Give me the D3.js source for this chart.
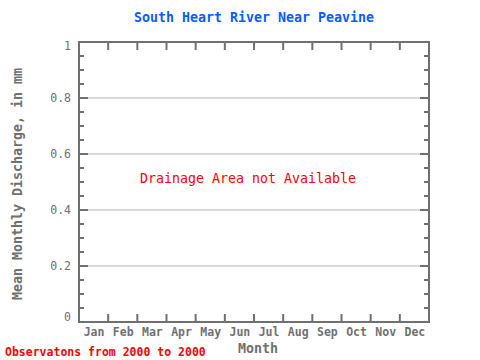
<!DOCTYPE html>
<html><head><meta charset="utf-8">
<script src="https://cdn.jsdelivr.net/npm/d3@7"></script>
<style>body{margin:0;background:#fff}svg{display:block}</style>
</head><body>
<script>
const months = ["Jan","Feb","Mar","Apr","May","Jun","Jul","Aug","Sep","Oct","Nov","Dec"];
const yTicks = [0, 0.2, 0.4, 0.6, 0.8, 1];
const yTickLabels = ["0","0.2","0.4","0.6","0.8","1"];
const values = []; // no data available
const titleText = "South Heart River Near Peavine";
const noteText = "Drainage Area not Available";
const obsText = "Observatons from 2000 to 2000";

const W = 480, H = 360;
const L = 79, R = 429, T = 42, B = 322;
const font = "'DejaVu Sans Mono', 'Liberation Mono', monospace";
const gray = "#707070";

const svg = d3.select("body").append("svg").attr("width", W).attr("height", H);
const x = d3.scaleBand().domain(months).range([L, R]);
const y = d3.scaleLinear().domain([0, 1]).range([B, T]);

// gridlines
svg.append("g").selectAll("line").data(yTicks.filter(d => d > 0 && d < 1)).join("line")
  .attr("x1", L).attr("x2", R).attr("y1", d => y(d)).attr("y2", d => y(d))
  .attr("stroke", "#b4b4b4").attr("stroke-width", 1);

// minor ticks
const minor = d3.range(0, 1.0001, 0.05).filter(v => yTicks.every(t => Math.abs(t - v) > 1e-6));
const tg = svg.append("g").attr("stroke", gray).attr("stroke-width", 2);
minor.forEach(v => {
  tg.append("line").attr("x1", L).attr("x2", L + 5).attr("y1", y(v)).attr("y2", y(v));
  tg.append("line").attr("x1", R).attr("x2", R - 5).attr("y1", y(v)).attr("y2", y(v));
});
yTicks.forEach(v => {
  tg.append("line").attr("x1", L).attr("x2", L + 9).attr("y1", y(v)).attr("y2", y(v));
  tg.append("line").attr("x1", R).attr("x2", R - 9).attr("y1", y(v)).attr("y2", y(v));
});
// month boundary ticks
months.slice(1).forEach(m => {
  const xv = x(m);
  tg.append("line").attr("x1", xv).attr("x2", xv).attr("y1", T).attr("y2", T + 8);
  tg.append("line").attr("x1", xv).attr("x2", xv).attr("y1", B).attr("y2", B - 8);
});

// frame
svg.append("rect").attr("x", L).attr("y", T).attr("width", R - L).attr("height", B - T)
  .attr("fill", "none").attr("stroke", gray).attr("stroke-width", 2);

// y tick labels (end labels nudged inward as in the reference)
svg.append("g").selectAll("text").data(yTicks).join("text")
  .attr("x", 71).attr("y", d => y(d) + 4 + (d === 0 ? -5 : d === 1 ? 4 : 0)).attr("text-anchor", "end")
  .attr("font-family", font).attr("font-size", 11.5).attr("fill", gray)
  .text((d, i) => yTickLabels[i]);

// x labels
svg.append("g").selectAll("text").data(months).join("text")
  .attr("x", d => x(d) + x.bandwidth() / 2 + 0.5).attr("y", 336).attr("text-anchor", "middle")
  .attr("font-family", font).attr("font-size", 11.5).attr("font-weight", "bold").attr("fill", gray)
  .text(d => d);

// title
svg.append("text").attr("x", 254).attr("y", 22).attr("text-anchor", "middle")
  .attr("font-family", font).attr("font-size", 13.3).attr("font-weight", "bold").attr("fill", "#0a5cff")
  .text(titleText);

// note
svg.append("text").attr("x", 248).attr("y", 183).attr("text-anchor", "middle")
  .attr("font-family", font).attr("font-size", 13.3).attr("fill", "#ff0000")
  .text(noteText);

// axis titles
svg.append("text").attr("x", 258).attr("y", 353).attr("text-anchor", "middle")
  .attr("font-family", font).attr("font-size", 13.3).attr("font-weight", "bold").attr("fill", gray)
  .text("Month");
svg.append("text").attr("transform", "translate(22," + ((T + B) / 2 + 2) + ") rotate(-90)")
  .attr("text-anchor", "middle")
  .attr("font-family", font).attr("font-size", 13.3).attr("font-weight", "bold").attr("fill", gray)
  .text("Mean Monthly Discharge, in mm");

// observations
svg.append("text").attr("x", 5).attr("y", 356)
  .attr("font-family", font).attr("font-size", 11.5).attr("font-weight", "bold").attr("fill", "#ff0000")
  .text(obsText);
</script>
</body></html>
